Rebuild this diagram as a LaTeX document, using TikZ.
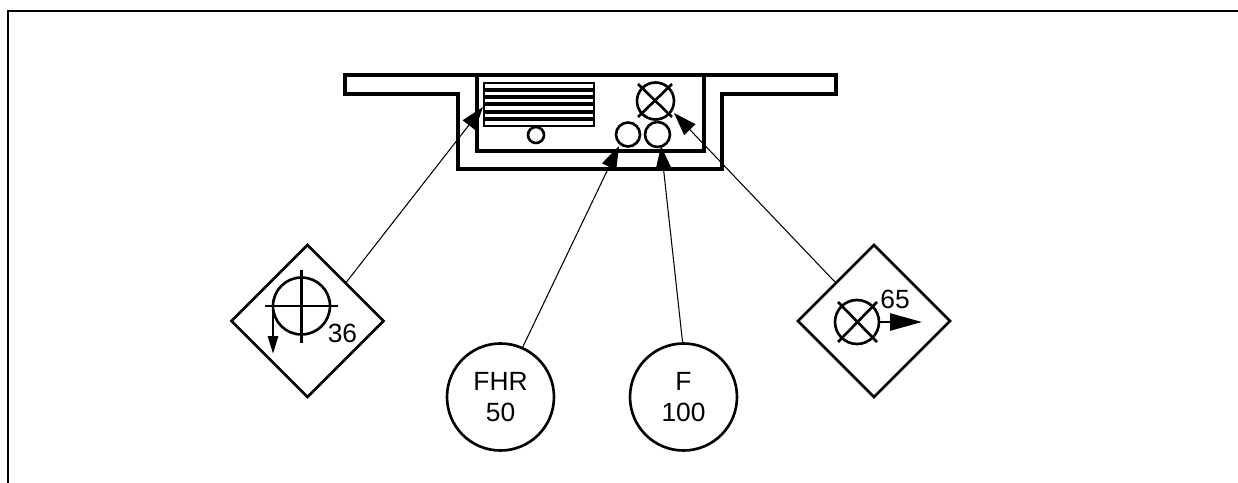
\documentclass[tikz,border=0pt]{standalone}
\usepackage{fontspec}
\setmainfont{Liberation Sans}
\usetikzlibrary{arrows.meta, positioning, shapes.geometric}

\begin{document}
\begin{tikzpicture}[
                x=0.02cm, y=-0.02cm,
                thickline/.style={draw, line width=2.1pt},
                thinline/.style={draw, line width=1.5pt},
                leader/.style={draw, line width=0.6pt, {Triangle[length=0.46cm, width=0.31cm]}-},
                diamondbox/.style={draw, diamond, line width=1.5pt, minimum width=153*0.02cm, minimum height=153*0.02cm, inner sep=0pt},
                roundbox/.style={draw, circle, line width=1.5pt, minimum size=107*0.02cm, align=center, inner sep=0pt, font=\fontsize{15}{17.5}\selectfont},
                lamp/.style={draw, circle, line width=1.5pt, inner sep=0pt},
                smalltext/.style={inner sep=0pt, font=\fontsize{15}{17.5}\selectfont}
            ]
            \useasboundingbox (0,0) rectangle (1238,483);

            % Cadre
            \draw[line width=1.5pt] (8,483) -- (8,11) -- (1238,11);

            % Boitier
            \draw[thickline] (345,75) -- (836,75) -- (836,94) -- (722,94) -- (722,169) -- (458,169) -- (458,94) -- (345,94) -- cycle;
            \draw[thickline] (477,75) -- (477,151) -- (704,151) -- (704,75);

            % Grille
            \draw[thinline] (484,83) rectangle (594,126);
            \foreach \ypos in {90,97,104,112,119} {
                \draw[line width=1.8pt] (484,\ypos) -- (594,\ypos);
            }

            % Voyants
            \node[lamp, minimum size=16*0.02cm] (button) at (536,135) {};
            \node[lamp, minimum size=24*0.02cm] (lampA) at (628,134.5) {};
            \node[lamp, minimum size=25*0.02cm] (lampB) at (657.5,134.5) {};
            \node[lamp, minimum size=37*0.02cm] (lampC) at (655.5,101) {};
            \draw[thinline] (638,84) -- (672,117) (672,84) -- (638,117);

            % Reperes
            \node[diamondbox] (sym36) at (307.5,321) {};
            \node[roundbox] (fhr) at (500.5,397) {FHR\\50};
            \node[roundbox] (f100) at (683.5,397) {F\\100};
            \node[diamondbox] (sym65) at (874,321) {};

            % Symbole 36
            \node[lamp, minimum size=57*0.02cm] (sight) at (301.5,306) {};
            \draw[thinline] (265,306) -- (338,306) (301.5,270) -- (301.5,343);
            \coordinate (dropstart) at (273,306);
            \coordinate (dropend) at (273,354);
            \draw[thinline, -{Triangle[length=0.36cm, width=0.2cm]}] (dropstart) -- (dropend);
            \node[smalltext] (label36) at (342.5,333.5) {36};

            % Symbole 65
            \node[lamp, minimum size=44*0.02cm] (bulb) at (857,322) {};
            \draw[thinline] (838,302) -- (877,342) (877,302) -- (838,342);
            \coordinate (rayend) at (922,322);
            \draw[thinline, -{Triangle[length=0.64cm, width=0.34cm]}] (bulb) -- (rayend);
            \node[smalltext] (label65) at (895,299) {65};

            % Fleches
            \coordinate (tipgrid) at (483,107);
            \coordinate (tipA) at (619,146);
            \coordinate (tipB) at (661,146);
            \coordinate (tipC) at (674,113);
            \draw[leader] (tipgrid) -- (sym36.north east);
            \draw[leader] (tipA) -- (fhr.66);
            \draw[leader] (tipB) -- (f100.91);
            \draw[leader] (tipC) -- (sym65.north west);

        \end{tikzpicture}
\end{document}
